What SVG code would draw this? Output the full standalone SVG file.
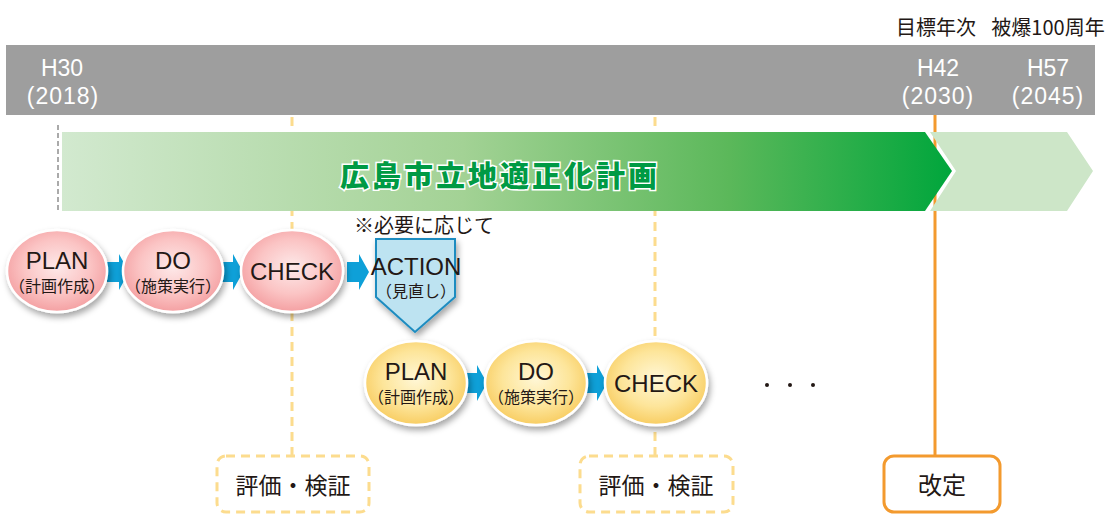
<svg xmlns="http://www.w3.org/2000/svg" width="1113" height="518" viewBox="0 0 1113 518">
<defs>
<linearGradient id="gMain" x1="62" y1="0" x2="952" y2="0" gradientUnits="userSpaceOnUse">
<stop offset="0" stop-color="#d2e9cf"/>
<stop offset="0.45" stop-color="#a3d295"/>
<stop offset="0.75" stop-color="#5bb85a"/>
<stop offset="1" stop-color="#00a63c"/>
</linearGradient>
<radialGradient id="gPink" cx="0.5" cy="0.45" r="0.55">
<stop offset="0" stop-color="#fde9e9"/>
<stop offset="0.6" stop-color="#fbc4c4"/>
<stop offset="1" stop-color="#f4a0a2"/>
</radialGradient>
<radialGradient id="gYel" cx="0.5" cy="0.45" r="0.55">
<stop offset="0" stop-color="#fff7d6"/>
<stop offset="0.6" stop-color="#fde59a"/>
<stop offset="1" stop-color="#f8cd62"/>
</radialGradient>
<filter id="sh" x="-20%" y="-20%" width="150%" height="150%">
<feDropShadow dx="2" dy="4" stdDeviation="3" flood-color="#000" flood-opacity="0.35"/>
</filter>
<path id="arr" d="M0,-10 H12 V-18 L22,0 L12,18 V10 H0 Z" fill="#0ea0d8"/>
</defs>
<style>
.lat{font-family:"Liberation Sans",Arial,sans-serif;fill:#231815}
.jp{font-family:"Noto Sans CJK JP","Noto Sans",sans-serif;fill:#231815}
.wt{font-family:"Liberation Sans",Arial,sans-serif;fill:#ffffff;font-size:23px;text-anchor:middle}
.wtj{font-family:"Liberation Sans","Noto Sans CJK JP",sans-serif;fill:#ffffff;font-size:23px;text-anchor:middle}
.big{font-size:24px;text-anchor:middle}
.sub{font-size:16px;text-anchor:middle}
.pink{fill:url(#gPink);stroke:#fff;stroke-width:2.5;filter:url(#sh)}
.yel{fill:url(#gYel);stroke:#fff;stroke-width:2.5;filter:url(#sh)}
.ydash{stroke:#fcdc8e;stroke-width:3;stroke-dasharray:9 6;fill:none}
</style>

<!-- timeline bar -->
<g id="timeline">
<rect x="6" y="45" width="1089" height="70" fill="#9e9e9e"/>
<text class="wt" x="62" y="76">H30</text>
<text class="wtj" x="63" y="104" letter-spacing="1">(2018)</text>
<text class="wt" x="938" y="76">H42</text>
<text class="wtj" x="938" y="104" letter-spacing="1">(2030)</text>
<text class="wt" x="1048" y="76">H57</text>
<text class="wtj" x="1048" y="104" letter-spacing="1">(2045)</text>
</g>
<g id="top-labels">
<text class="jp" x="936" y="35" font-size="20" text-anchor="middle">目標年次</text>
<text class="jp" x="1048" y="35" font-size="20" text-anchor="middle">被爆100周年</text>
</g>

<!-- connectors -->
<g id="connectors">
<line x1="58" y1="125" x2="58" y2="212" stroke="#aaaaaa" stroke-width="2" stroke-dasharray="5 3"/>
<line class="ydash" x1="292" y1="117" x2="292" y2="456"/>
<line class="ydash" x1="655" y1="117" x2="655" y2="456"/>
<line x1="935" y1="115" x2="935" y2="456" stroke="#f39a2e" stroke-width="3"/>
</g>

<!-- plan arrows -->
<g id="plan-arrow">
<polygon points="62,132 925,132 952,171 925,211 62,211" fill="url(#gMain)"/>
<polygon points="930,132 1067,132 1093,171 1067,211 930,211 956,171" fill="#cde6c8"/>
<text x="500" y="187" font-family="'Noto Sans CJK JP',sans-serif" font-weight="900" font-size="29" letter-spacing="3" fill="#009a44" stroke="#ffffff" stroke-width="3" paint-order="stroke" text-anchor="middle">広島市立地適正化計画</text>
</g>

<g id="note"><text class="jp" x="424" y="233" font-size="20" text-anchor="middle">※必要に応じて</text></g>

<!-- cycle 1 -->
<g id="arrows1">
<use href="#arr" x="107" y="272"/>
<use href="#arr" x="221" y="272"/>
<use href="#arr" x="347" y="272"/>
</g>
<g id="plan1">
<ellipse class="pink" cx="57" cy="271" rx="50" ry="41"/>
<text class="lat big" x="57" y="269">PLAN</text>
<text class="jp sub" x="57" y="292">（計画作成）</text>
</g>
<g id="do1">
<ellipse class="pink" cx="173" cy="271" rx="50" ry="41"/>
<text class="lat big" x="173" y="269">DO</text>
<text class="jp sub" x="173" y="292">（施策実行）</text>
</g>
<g id="check1">
<ellipse class="pink" cx="292" cy="271" rx="51" ry="41"/>
<text class="lat big" x="292" y="280">CHECK</text>
</g>
<g id="action">
<polygon points="376,239 455,239 455,297 415,332 376,297" fill="#bde3f1" stroke="#1f8cc0" stroke-width="2" filter="url(#sh)"/>
<text class="lat big" x="416" y="275">ACTION</text>
<text class="jp sub" x="416" y="297">（見直し）</text>
</g>

<!-- cycle 2 -->
<g id="arrows2">
<use href="#arr" x="465" y="383"/>
<use href="#arr" x="585" y="383"/>
</g>
<g id="plan2">
<ellipse class="yel" cx="416" cy="383" rx="51" ry="42"/>
<text class="lat big" x="416" y="380">PLAN</text>
<text class="jp sub" x="416" y="403">（計画作成）</text>
</g>
<g id="do2">
<ellipse class="yel" cx="536" cy="383" rx="51" ry="42"/>
<text class="lat big" x="536" y="380">DO</text>
<text class="jp sub" x="536" y="403">（施策実行）</text>
</g>
<g id="check2">
<ellipse class="yel" cx="656" cy="383" rx="51" ry="42"/>
<text class="lat big" x="656" y="392">CHECK</text>
</g>
<g id="dots">
<circle cx="767" cy="385" r="2" fill="#231815"/>
<circle cx="790" cy="385" r="2" fill="#231815"/>
<circle cx="813" cy="385" r="2" fill="#231815"/>
</g>

<!-- boxes -->
<g id="eval1">
<rect class="ydash" x="217" y="456" width="152" height="56" rx="9"/>
<text class="jp" x="293" y="494" font-size="23" text-anchor="middle">評価・検証</text>
</g>
<g id="eval2">
<rect class="ydash" x="580" y="456" width="153" height="56" rx="9"/>
<text class="jp" x="656" y="494" font-size="23" text-anchor="middle">評価・検証</text>
</g>
<g id="revise">
<rect x="884" y="456" width="116" height="56" rx="10" fill="#fff" stroke="#f39a2e" stroke-width="3"/>
<text class="jp" x="942" y="494" font-size="24" text-anchor="middle">改定</text>
</g>
</svg>
